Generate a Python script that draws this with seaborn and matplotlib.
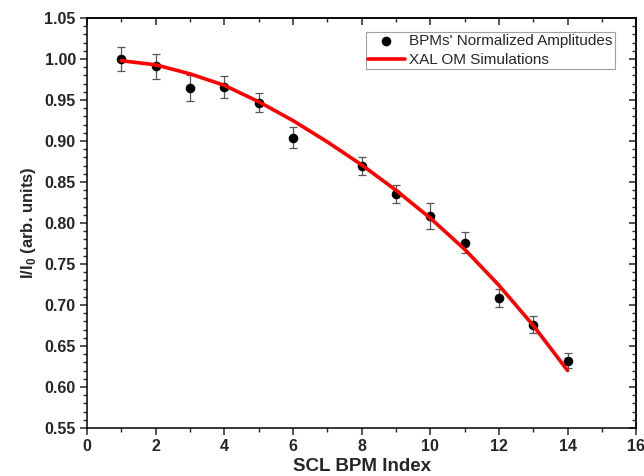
import numpy as np
import pandas as pd
import seaborn as sns
import matplotlib.pyplot as plt
from matplotlib.ticker import MultipleLocator

# measured BPM amplitudes (index 7 missing)
bpm_index = [1, 2, 3, 4, 5, 6, 8, 9, 10, 11, 12, 13, 14]
bpm_amp = [1.000, 0.991, 0.965, 0.966, 0.947, 0.904, 0.869, 0.835, 0.809, 0.776, 0.708, 0.676, 0.632]
bpm_err = [0.015, 0.015, 0.016, 0.013, 0.012, 0.013, 0.011, 0.011, 0.016, 0.013, 0.011, 0.010, 0.009]

# XAL online model simulation
sim_index = [1, 2, 3, 4, 5, 6, 7, 8, 9, 10, 11, 12, 13, 14]
sim_amp = [0.998, 0.993, 0.982, 0.968, 0.948, 0.925, 0.899, 0.871, 0.840, 0.806, 0.768, 0.724, 0.675, 0.620]

sns.set_theme(style="ticks")
plt.rcParams['font.family'] = ['Liberation Sans', 'DejaVu Sans']
plt.rcParams['mathtext.fontset'] = 'custom'
plt.rcParams['mathtext.rm'] = 'Liberation Sans'
plt.rcParams['mathtext.bf'] = 'Liberation Sans:bold'

meas = pd.DataFrame({'idx': bpm_index, 'amp': bpm_amp})
sim = pd.DataFrame({'idx': sim_index, 'amp': sim_amp})

fig = plt.figure(figsize=(6.44, 4.76), dpi=100)
ax = fig.add_axes([0.135, 0.101, 0.853, 0.861])

ax.errorbar(bpm_index, bpm_amp, yerr=bpm_err, fmt='none', ecolor='#555555',
            elinewidth=0.9, capsize=2.6, capthick=0.9, zorder=2)
sns.scatterplot(data=meas, x='idx', y='amp', ax=ax, color='black', s=48,
                edgecolor='black', linewidth=0, zorder=3,
                label="BPMs' Normalized Amplitudes")
sns.lineplot(data=sim, x='idx', y='amp', ax=ax, color='red', linewidth=2.6,
             zorder=4, label='XAL OM Simulations')

ax.set_xlim(0, 16)
ax.set_ylim(0.55, 1.05)
ax.xaxis.set_major_locator(MultipleLocator(2))
ax.xaxis.set_minor_locator(MultipleLocator(1))
ax.yaxis.set_major_locator(MultipleLocator(0.05))
ax.yaxis.set_minor_locator(MultipleLocator(0.01))
ax.yaxis.set_major_formatter(plt.FormatStrFormatter('%.2f'))

for s in ax.spines.values():
    s.set_linewidth(1.1)
    s.set_color('black')
ax.tick_params(which='major', direction='out', length=5, width=1.1,
               labelsize=11.5, pad=3)
ax.tick_params(which='minor', direction='out', length=3, width=1.0)
for lab in ax.get_xticklabels() + ax.get_yticklabels():
    lab.set_fontweight('bold')

top = ax.secondary_xaxis('top')
top.xaxis.set_major_locator(MultipleLocator(2))
top.xaxis.set_minor_locator(MultipleLocator(1))
top.tick_params(which='major', direction='in', length=5, width=1.1, labeltop=False)
top.tick_params(which='minor', direction='in', length=3, width=1.0)
right = ax.secondary_yaxis('right')
right.yaxis.set_major_locator(MultipleLocator(0.05))
right.yaxis.set_minor_locator(MultipleLocator(0.01))
right.tick_params(which='major', direction='in', length=5, width=1.1, labelright=False)
right.tick_params(which='minor', direction='in', length=3, width=1.0)

ax.set_xlabel('SCL BPM Index', fontsize=13.5, fontweight='bold', labelpad=3)
ax.set_ylabel(r'I/I$_{\mathbf{0}}$ (arb. units)', fontsize=12, fontweight='bold', labelpad=5)

leg = ax.legend(loc='upper right', bbox_to_anchor=(0.961, 0.966), fontsize=11,
                frameon=True, fancybox=False, edgecolor='#888888',
                handlelength=2.4, handletextpad=0.3, borderpad=0.15,
                labelspacing=0.3, borderaxespad=0)
leg.get_frame().set_linewidth(0.8)

fig.savefig('out.png', dpi=100)
